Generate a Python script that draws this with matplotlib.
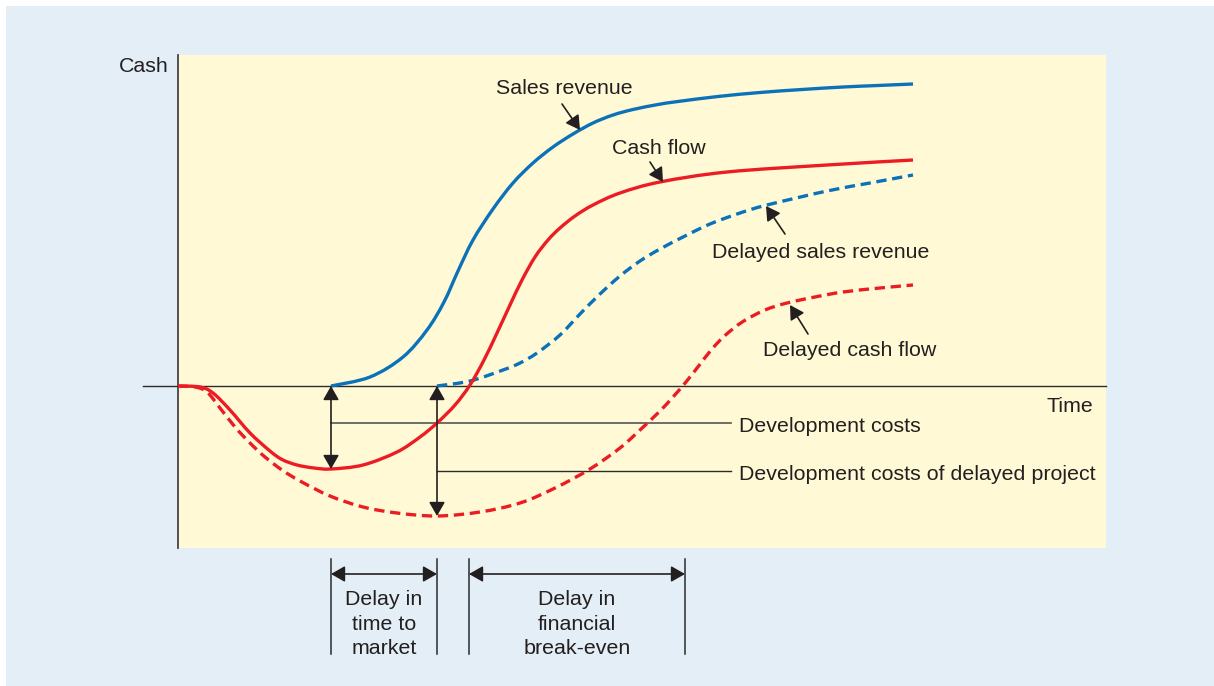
import matplotlib
matplotlib.use("Agg")
import numpy as np
import matplotlib.pyplot as plt
from matplotlib.patches import Rectangle, FancyArrowPatch, PathPatch
from matplotlib.path import Path

plt.rcParams['font.family'] = ['Liberation Sans', 'DejaVu Sans']

# ---- data (time units, cash units) ----
sales_t = [15.3, 19.2, 22.5, 24.9, 26.6, 28.0, 29.5, 31.5, 33.5, 35.5, 37.5, 39.5,
           41.5, 43.5, 45.5, 48.0, 50.0, 54.0, 58.2, 62.4, 66.5, 70.0, 73.5]
sales_c = [0.0, 0.9, 2.9, 5.6, 8.4, 11.5, 14.6, 17.7, 20.3, 22.3, 23.9, 25.2,
           26.3, 27.1, 27.65, 28.15, 28.45, 28.95, 29.35, 29.65, 29.9, 30.05, 30.2]

cash_t = [0.0, 2.2, 3.5, 5.2, 7.2, 9.2, 10.4, 11.9, 13.6, 15.3, 18.5, 21.9, 24.2, 25.9,
          27.7, 29.2, 30.6, 31.9, 33.2, 34.4, 35.7, 37.0, 38.2, 39.7, 41.5, 44.2,
          48.2, 54.9, 64.9, 73.5]
cash_c = [0.0, -0.1, -0.7, -2.4, -4.7, -6.5, -7.35, -7.9, -8.2, -8.3, -7.9, -6.6, -5.1, -3.7,
          -1.9, 0.1, 2.6, 5.3, 8.1, 10.6, 12.9, 14.6, 15.8, 17.0, 18.1, 19.3,
          20.4, 21.4, 22.1, 22.6]

dsales_t = [25.9, 29.2, 32.5, 34.2, 35.9, 38.2, 40.2, 42.2, 44.2, 46.2, 48.2, 50.7,
            53.2, 56.2, 58.9, 64.9, 69.2, 73.5]
dsales_c = [0.0, 0.5, 1.6, 2.3, 3.3, 5.1, 7.2, 9.2, 11.0, 12.5, 13.7, 15.0,
            16.2, 17.3, 18.1, 19.5, 20.3, 21.1]

dcash_t = [0.0, 1.7, 2.9, 4.2, 5.7, 7.2, 8.7, 10.4, 12.2, 15.2, 18.5, 21.9, 25.9,
           30.2, 34.2, 37.7, 41.2, 44.2, 46.2, 48.2, 49.5, 50.8, 52.1, 53.4, 54.7,
           56.5, 58.7, 60.9, 63.7, 66.5, 70.2, 73.5]
dcash_c = [0.0, -0.1, -0.6, -2.2, -4.1, -5.7, -7.1, -8.4, -9.5, -11.0, -12.1, -12.7, -13.0,
           -12.6, -11.7, -10.2, -8.3, -6.2, -4.4, -2.5, -1.1, 0.4, 2.05, 3.7, 5.05,
           6.45, 7.6, 8.3, 8.9, 9.4, 9.8, 10.1]

launch_t = 15.3          # product launch (on time)
launch_delayed_t = 25.9  # product launch (delayed)
breakeven_t = 29.1       # break-even of on-time project
breakeven_delayed_t = 50.7
dev_cost = -8.3
dev_cost_delayed = -13.0

# ---- styling ----
BLUE = '#0b72b9'
RED = '#ec1c24'
TXT = '#231f20'
LINE = '#2b2b2b'
BG = '#e3eef6'
PANEL = '#fffad5'
FS = 15.4

fig = plt.figure(figsize=(12.14, 6.86), dpi=100)
fig.patches.append(Rectangle((6 / 1214, 0), 1208 / 1214, 680 / 686,
                             transform=fig.transFigure, facecolor=BG,
                             edgecolor='none', zorder=-10))

ax = fig.add_axes([178 / 1214, (686 - 548) / 686, 928 / 1214, 493 / 686])
ax.set_facecolor(PANEL)
ax.set_xlim(0, 92.8)
ax.set_ylim(-16.2, 33.1)
for s in ax.spines.values():
    s.set_visible(False)
ax.set_xticks([])
ax.set_yticks([])

# axes
ax.plot([0, 0], [-16.2, 33.1], color='#444444', lw=1.3, clip_on=False, zorder=3)
ax.plot([-3.5, 92.8], [0, 0], color=LINE, lw=1.0, clip_on=False, zorder=3)


def smooth_curve(xs, ys, **kw):
    """Draw a smooth Bezier (Catmull-Rom) path through the read points."""
    P = np.column_stack([xs, ys]).astype(float)
    n = len(P)
    verts = [P[0]]
    codes = [Path.MOVETO]
    for i in range(n - 1):
        p0 = P[i - 1] if i > 0 else P[i]
        p1, p2 = P[i], P[i + 1]
        p3 = P[i + 2] if i + 2 < n else P[i + 1]
        c1 = p1 + (p2 - p0) / 6.0
        c2 = p2 - (p3 - p1) / 6.0
        verts += [c1, c2, p2]
        codes += [Path.CURVE4] * 3
    patch = PathPatch(Path(verts, codes), fill=False, **kw)
    ax.add_patch(patch)
    return patch


lw = 2.4
smooth_curve(dcash_t, dcash_c, edgecolor=RED, lw=lw, linestyle=(0, (3.1, 1.7)),
             capstyle='butt', zorder=4)
smooth_curve(dsales_t, dsales_c, edgecolor=BLUE, lw=lw, linestyle=(0, (3.1, 1.7)),
             capstyle='butt', zorder=4)
smooth_curve(cash_t, cash_c, edgecolor=RED, lw=lw, zorder=5)
smooth_curve(sales_t, sales_c, edgecolor=BLUE, lw=lw, zorder=5)


def arrow(p0, p1, style='-|>', lwa=1.2):
    a = FancyArrowPatch(p0, p1, arrowstyle=style + ',head_length=0.42,head_width=0.24',
                        mutation_scale=20, color=TXT, lw=lwa, shrinkA=0, shrinkB=0,
                        clip_on=False, zorder=6)
    ax.add_patch(a)


# curve labels with arrows
ax.text(31.8, 29.8, 'Sales revenue', fontsize=FS, color=TXT, va='center', ha='left')
arrow((38.4, 28.2), (40.2, 25.6))
ax.text(43.4, 23.7, 'Cash flow', fontsize=FS, color=TXT, va='center', ha='left')
arrow((47.2, 22.4), (48.5, 20.4))
ax.text(53.4, 13.4, 'Delayed sales revenue', fontsize=FS, color=TXT, va='center', ha='left')
arrow((60.7, 15.2), (58.8, 18.0))
ax.text(58.5, 3.5, 'Delayed cash flow', fontsize=FS, color=TXT, va='center', ha='left')
arrow((63.0, 5.2), (61.2, 8.1))

# development cost arrows
arrow((launch_t, 0), (launch_t, dev_cost), style='<|-|>')
arrow((launch_delayed_t, 0), (launch_delayed_t, dev_cost_delayed), style='<|-|>')
ax.plot([launch_t, 55.3], [-3.7, -3.7], color='#555555', lw=1.2, zorder=3)
ax.plot([launch_delayed_t, 55.3], [-8.5, -8.5], color=LINE, lw=1.0, zorder=3)
ax.text(56.1, -4.0, 'Development costs', fontsize=FS, color=TXT, va='center', ha='left')
ax.text(56.1, -8.8, 'Development costs of delayed project', fontsize=FS, color=TXT,
        va='center', ha='left')

ax.text(91.5, -2.0, 'Time', fontsize=FS, color=TXT, va='center', ha='right')
ax.text(-0.9, 32.0, 'Cash', fontsize=FS, color=TXT, va='center', ha='right')

# bottom delay brackets
for tx in [launch_t, launch_delayed_t, breakeven_t, breakeven_delayed_t]:
    ax.plot([tx, tx], [-17.3, -26.8], color=LINE, lw=1.1, clip_on=False, zorder=3)
arrow((launch_t, -18.8), (launch_delayed_t, -18.8), style='<|-|>')
arrow((breakeven_t, -18.8), (breakeven_delayed_t, -18.8), style='<|-|>')
ax.text((launch_t + launch_delayed_t) / 2, -23.8, 'Delay in\ntime to\nmarket',
        fontsize=FS, color=TXT, ha='center', va='center', linespacing=1.37,
        multialignment='center')
ax.text((breakeven_t + breakeven_delayed_t) / 2, -23.8,
        'Delay in\nfinancial\nbreak-even', fontsize=FS, color=TXT, ha='center',
        va='center', linespacing=1.37, multialignment='center')

fig.savefig('out.png', dpi=100, facecolor='white')
